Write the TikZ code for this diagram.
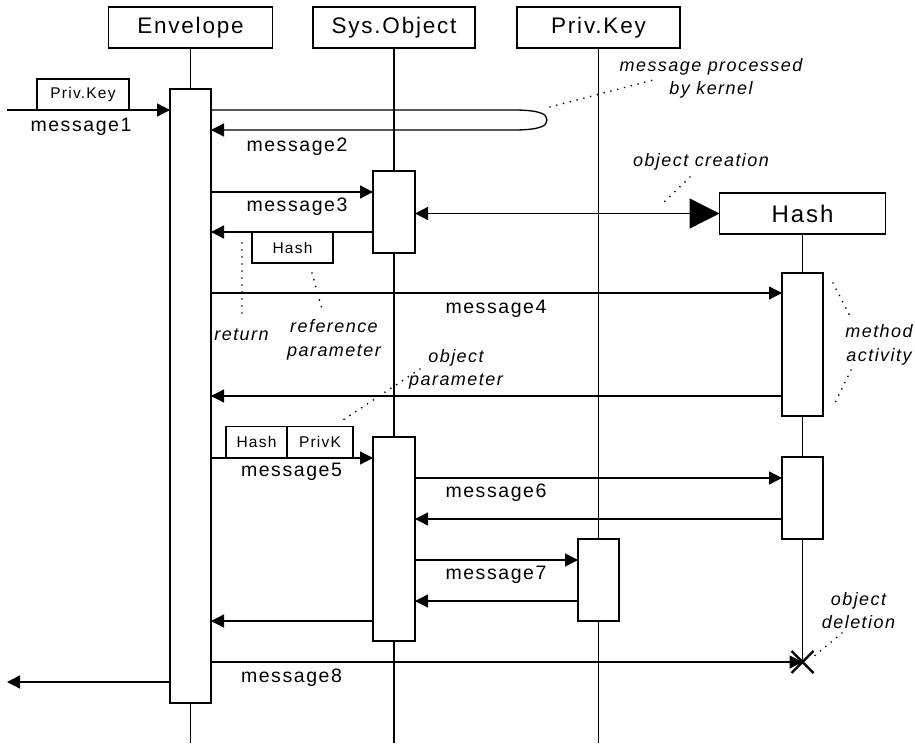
\documentclass[tikz,border=0pt]{standalone}
\usepackage{fontspec}
\usetikzlibrary{arrows.meta,calc}
\newfontfamily\lsfont[LetterSpace=8]{Liberation Sans}
\newcommand\hdrfont{\lsfont\fontsize{22.5}{27}\selectfont}
\newcommand\lblfont{\lsfont\fontsize{19.5}{23}\selectfont}
\newcommand\smlfont{\lsfont\fontsize{15.5}{19}\selectfont}
\newcommand\notefont{\lsfont\itshape\fontsize{18}{23.5}\selectfont}
\begin{document}
\begin{tikzpicture}[x=1pt,y=-1pt,
  every node/.style={inner sep=0pt,outer sep=0pt},
  hdr/.style={draw,line width=1.3pt,fill=white,minimum width=164pt,minimum height=41pt,font=\hdrfont},
  actbox/.style={draw,line width=1.3pt,fill=white,minimum width=41pt},
  life/.style={line width=1.1pt},
  msg/.style={line width=1.3pt,-{Triangle[length=13pt,width=13pt]}},
  lbl/.style={font=\lblfont},
  note/.style={font=\notefont,align=center},
  dots/.style={line width=1.9pt,dash pattern=on 0pt off 7pt,line cap=round},
  parbox/.style={draw,line width=1.3pt,fill=white,font=\smlfont,minimum height=31pt}]
\useasboundingbox (0,0) rectangle (915,746);
% headers
\node[hdr] (env) at (190.5,27.5) {Envelope};
\node[hdr,minimum width=162pt] (sys) at (394,27.5) {Sys.Object};
\node[hdr,minimum width=163pt] (pri) at (598.5,27.5) {Priv.Key};
\node[hdr,minimum width=166pt,font=\lsfont\fontsize{24}{28}\selectfont] (hash) at (802.5,213.5) {Hash};
% lifeline ends
\coordinate (envEnd) at (190.5,743);
\coordinate (sysEnd) at (394,743);
\coordinate (priEnd) at (598.5,743);
\coordinate (hx) at (802.5,662);
\draw[life] (env.south) -- (envEnd);
\draw[life] (sys.south) -- (sysEnd);
\draw[life] (pri.south) -- (priEnd);
\draw[life] (hash.south) -- (hx);
% activation boxes
\node[actbox,minimum height=614pt] (envA) at (190.5,396) {};
\node[actbox,minimum height=82pt,minimum width=42pt] (s1) at (394,212) {};
\node[actbox,minimum height=204pt,minimum width=42pt] (s2) at (394,539) {};
\node[actbox,minimum height=143pt] (h1) at (802.5,344.5) {};
\node[actbox,minimum height=82pt] (h2) at (802.5,498) {};
\node[actbox,minimum height=82pt] (pA) at (598.5,580) {};
% message1
\coordinate (m1s) at (7,110);
\node[parbox,minimum width=92pt] (pk1) at (83,94.5) {Priv.Key};
\draw[msg] (m1s) -- (envA.west |- m1s);
\node[lbl] (l1) at (81,127) {message1};
% message2 loop
\draw[msg] (envA.east |- 0,110) -- (513,110) .. controls (540,110) and (547,114) .. (547,120)
  .. controls (547,126) and (540,130) .. (513,130) -- (envA.east |- 0,130);
\node[lbl] (l2) at (297,147) {message2};
\node[note] (n1) at (711,78.5) {message processed\\by kernel};
\draw[dots] (550,107) -- (653,80);
% message3
\draw[msg] (envA.east |- 0,192) -- (s1.west |- 0,192);
\node[lbl] (l3) at (297,207) {message3};
\draw[msg] (s1.west |- 0,232) -- (envA.east |- 0,232);
\node[parbox,minimum width=81pt] (hp) at (292.5,247.5) {Hash};
\draw[dots] (242,243) -- (242,320);
\node[note] (nret) at (241.5,335) {return};
\draw[dots] (312,273) -- (323,313);
\node[note] (nref) at (334,340) {reference\\parameter};
% object creation
\draw[line width=1.3pt,{Triangle[length=13pt,width=13pt]}-{Triangle[length=30pt,width=30pt]}] (s1.east |- hash.west) -- (hash.west);
\node[note] (ncr) at (701,162) {object creation};
\draw[dots] (690,177) -- (661,205);
% message4
\draw[msg] (envA.east |- 0,293) -- (h1.west |- 0,293);
\node[lbl] (l4) at (496,309) {message4};
\draw[msg] (h1.west |- 0,396) -- (envA.east |- 0,396);
\node[note] (nobj) at (456,369.5) {object\\parameter};
\draw[dots] (420,369) -- (340,422);
\node[note] (nmeth) at (879,345) {method\\activity};
\draw[dots] (833,283) -- (852,320);
\draw[dots] (851,370) -- (833,407);
% message5
\node[parbox,minimum width=61pt] (ph) at (256.5,442) {Hash};
\node[parbox,minimum width=66pt,anchor=west] (pv) at (ph.east) {PrivK};
\draw[msg] (envA.east |- 0,458) -- (s2.west |- 0,458);
\node[lbl] (l5) at (291.5,472) {message5};
% message6
\draw[msg] (s2.east |- 0,478) -- (h2.west |- 0,478);
\node[lbl] (l6) at (496,493) {message6};
\draw[msg] (h2.west |- 0,519) -- (s2.east |- 0,519);
% message7
\draw[msg] (s2.east |- 0,560) -- (pA.west |- 0,560);
\node[lbl] (l7) at (496,575) {message7};
\draw[msg] (pA.west |- 0,601) -- (s2.east |- 0,601);
\draw[msg] (s2.west |- 0,621) -- (envA.east |- 0,621);
% message8
\draw[msg] (envA.east |- hx) -- (hx);
\draw[line width=2.3pt] ($(hx)+(-11,-11)$) -- ($(hx)+(11,11)$) ($(hx)+(-11,11)$) -- ($(hx)+(11,-11)$);
\node[lbl] (l8) at (291.5,678) {message8};
\node[note] (ndel) at (858.5,610.5) {object\\deletion};
\draw[dots] (842,633) -- (813,657);
% outgoing
\coordinate (outEnd) at (7,682);
\draw[msg] (envA.west |- outEnd) -- (outEnd);
\end{tikzpicture}
\end{document}
